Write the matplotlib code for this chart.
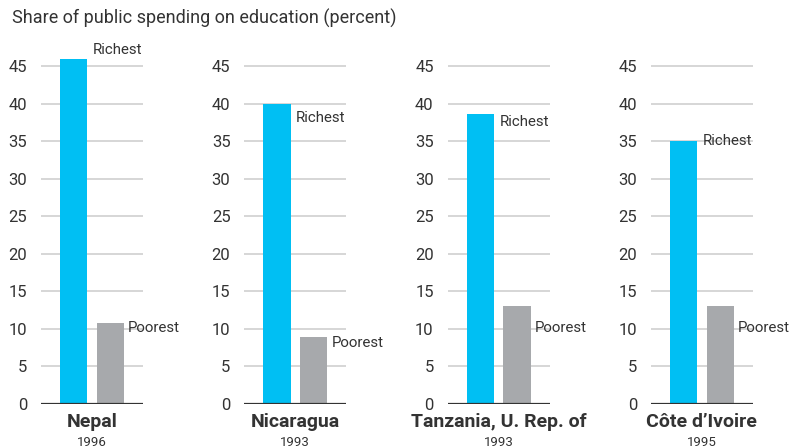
import matplotlib
matplotlib.use("Agg")
import matplotlib.pyplot as plt

plt.rcParams['font.family'] = ['Roboto', 'DejaVu Sans']

countries = ["Nepal", "Nicaragua", "Tanzania, U. Rep. of", "Côte d’Ivoire"]
years = ["1996", "1993", "1993", "1995"]
groups = ["Richest", "Poorest"]
richest = [45.9, 40.0, 38.6, 35.0]
poorest = [10.7, 8.9, 13.0, 13.0]
yticks = [0, 5, 10, 15, 20, 25, 30, 35, 40, 45]

BLUE = "#00bff3"
GREY = "#a7a9ac"
TXT = "#333333"

W, H = 795, 448
fig = plt.figure(figsize=(W / 100, H / 100), dpi=100)

# label nudges in points (x, y) for the richest / poorest tags
rich_off = [(4, 2), (4, -5), (4, -0.5), (4, 5.5)]
poor_off = [(3, 1.5), (3, 0.5), (3, -11), (3, -11)]

px_per_unit = 7.5
zero_y = 403.7
ytop = 48
for i, c in enumerate(countries):
    left = 41 + 203.3 * i
    ax = fig.add_axes([left / W, 1 - zero_y / H, 102 / W, ytop * px_per_unit / H])
    vals = [richest[i], poorest[i]]
    bars = ax.bar([0, 1], vals, width=0.74, color=[BLUE, GREY], zorder=3)
    ax.set_xlim(-0.89, 1.89)
    ax.set_ylim(0, ytop)
    ax.set_yticks(yticks)
    ax.tick_params(axis='y', length=0, pad=10, labelsize=12, labelcolor=TXT)
    ax.set_xticks([])
    for s in ax.spines.values():
        s.set_visible(False)
    for t in yticks[1:]:
        ax.axhline(t, color="#cbcbcb", lw=1.1, zorder=1)
    ax.axhline(0, color="#333333", lw=1.6, zorder=4)

    for b, g, off in zip(bars, groups, [rich_off[i], poor_off[i]]):
        if g == "Richest" and b.get_height() > yticks[-1]:
            va = 'bottom'
        else:
            va = 'top'
        ax.annotate(g, (b.get_x() + b.get_width(), b.get_height()),
                    xytext=off, textcoords='offset points',
                    ha='left', va=va, fontsize=10.8, color=TXT,
                    annotation_clip=False)

    ax.text(0.5, -0.025, c, transform=ax.transAxes, ha='center', va='top',
            fontsize=14, fontweight='bold', color=TXT)
    ax.text(0.5, -0.09, years[i], transform=ax.transAxes, ha='center',
            va='top', fontsize=9.5, color=TXT)

fig.text(12 / W, 1 - 18 / H, "Share of public spending on education (percent)",
         ha='left', va='center', fontsize=13, color=TXT)

fig.savefig("out.png", dpi=100)
